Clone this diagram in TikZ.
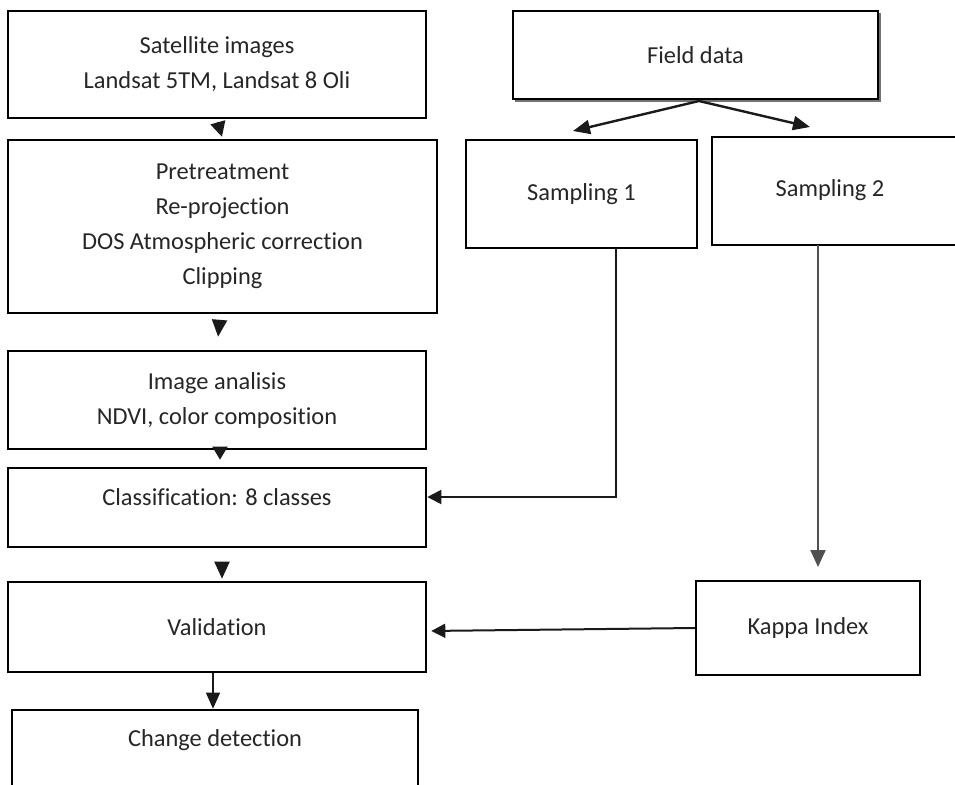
\documentclass[tikz,border=0pt]{standalone}
\usepackage{fontspec}
\setmainfont{Carlito}[Ligatures=NoCommon]
\usetikzlibrary{arrows.meta,calc}
\definecolor{txt}{HTML}{262626}
\definecolor{ln}{HTML}{1A1A1A}
\definecolor{gln}{HTML}{505050}
\tikzset{
  box/.style={draw=black, line width=2.6pt, rectangle, inner sep=0pt, text=txt,
    font=\fontsize{24.4}{35}\selectfont, align=center},
  rbox/.style={box, line width=2.2pt},
  lbl/.style={text=txt, font=\fontsize{24.4}{35}\selectfont, align=center, inner sep=0pt},
  conn/.style={draw=ln, line width=2pt},
  tip/.style={-{Triangle[length=#1pt,width=15pt]}},
}
\begin{document}
\begin{tikzpicture}[x=1pt,y=-1pt]
\useasboundingbox (0,0) rectangle (955,784);
\clip (0,0) rectangle (955,784);
\fill[white] (0,0) rectangle (955,784);

% left column
\node[box, minimum width=418pt, minimum height=107pt] (sat) at (217,64.5)
  {Satellite images\\Landsat 5TM, Landsat 8 Oli};
\node[box, minimum width=429pt, minimum height=173pt] (pre) at (222.5,226.5)
  {Pretreatment\\Re-projection\\DOS Atmospheric correction\\Clipping};
\node[box, minimum width=418pt, minimum height=98pt] (img) at (217,400)
  {Image analisis\\NDVI, color composition};
\node[box, minimum width=418pt, minimum height=79pt] (cls) at (217,507.5) {};
\node[lbl] (clst) at (217,497) {Classification: 8 classes};
\node[box, minimum width=418pt, minimum height=90pt] (val) at (217,627) {Validation};
\node[box, minimum width=406pt, minimum height=100pt] (chg) at (215,760) {};
\node[lbl] (chgt) at (215,740) {Change detection};

% right side
\fill[gln!80] (515,13) rectangle (881,102);
\node[box, fill=white, minimum width=365pt, minimum height=88pt] (field) at (695.5,55) {Field data};
\node[rbox, minimum width=231pt, minimum height=108pt] (s1) at (581.5,194) {Sampling 1};
\node[rbox, minimum width=253pt, minimum height=108pt] (s2) at (838.5,191) {};
\node[lbl] (s2t) at (830,190) {Sampling 2};
\node[rbox, minimum width=224pt, minimum height=94pt] (kap) at (808,628) {Kappa Index};

% coordinates for free ends
\coordinate (fs) at (699,101);
\coordinate (t1) at (573,131);
\coordinate (t2) at (810,127);

% left column connectors
\draw[conn, tip=15, shorten <=3pt, shorten >=2pt] (sat.south) -- (pre.north);
\draw[conn, tip=17, shorten <=8pt, shorten >=13pt] ([xshift=-2.5pt]pre.south) -- (img.north);
\draw[conn, tip=13, shorten <=0pt, shorten >=7pt] ([xshift=3pt]img.south) -- ([xshift=3pt]cls.north);
\draw[conn, tip=17, shorten <=16pt, shorten >=2pt] ([xshift=5pt]cls.south) -- ([xshift=5pt]val.north);
\draw[draw=ln, line width=1.4pt, -{Triangle[length=16pt,width=14pt]}] ([xshift=-4pt]val.south) -- ([xshift=-2pt]chg.north);

% field data arrows
\draw[draw=ln, line width=2.4pt, -{Triangle[length=17pt,width=14pt]}] (fs) -- (t1);
\draw[draw=ln, line width=2.4pt, -{Triangle[length=17pt,width=14pt]}] (fs) -- (t2);

% sampling connectors
\draw[conn, -{Triangle[length=14pt,width=14pt]}] (616,248) |- ([yshift=10.5pt]cls.east);
\draw[draw=gln, line width=2pt, -{Triangle[length=17pt,width=15pt]}, shorten >=14pt] (818,245) -- (818,581);
\draw[conn, -{Triangle[length=14pt,width=14pt]}, shorten >=4pt] (kap.west) -- ([yshift=-4pt]val.east);
\end{tikzpicture}
\end{document}
